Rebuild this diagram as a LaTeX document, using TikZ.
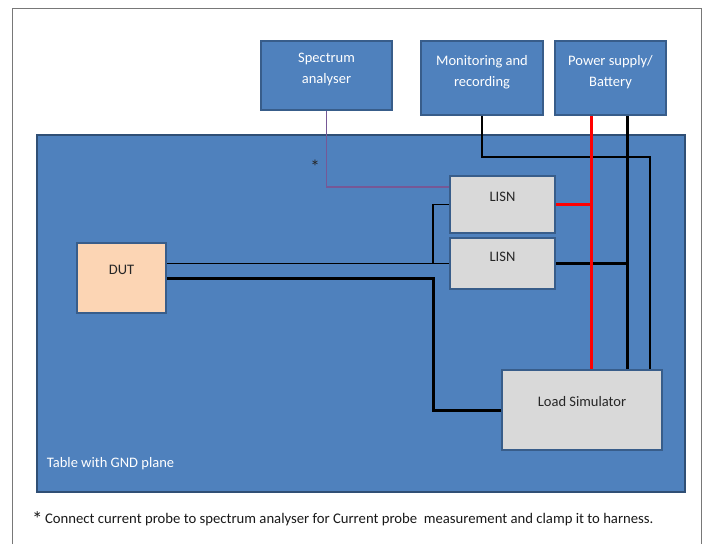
\documentclass[tikz,border=0pt]{standalone}
\usepackage{fontspec}
\setmainfont{Carlito}
\usepackage{tikz}
\usetikzlibrary{positioning,calc}
\definecolor{cBlue}{RGB}{79,129,189}
\definecolor{cEdge}{RGB}{56,93,138}
\definecolor{cGrey}{RGB}{217,217,217}
\definecolor{cPeach}{RGB}{252,213,180}
\definecolor{cProbe}{RGB}{118,88,150}
\definecolor{cFrame}{RGB}{120,120,120}
\definecolor{cWire}{RGB}{255,0,0}
\tikzset{
  basebox/.style={rectangle,draw=cEdge,line width=2.2pt,inner sep=0pt},
  bluebox/.style={basebox,fill=cBlue},
  greybox/.style={basebox,fill=cGrey},
  dutbox/.style={basebox,fill=cPeach},
  tablebox/.style={basebox,fill=cBlue,draw=cEdge!85!black,line width=2.5pt},
  toptext/.style={below=#1,inner sep=0pt,align=center,
                  font=\fontsize{14.5}{21}\selectfont},
  whitetext/.style={toptext=#1,text=white},
  darktext/.style={toptext=#1,text=black!85},
  tabletext/.style={anchor=base west,inner sep=0pt,xshift=11pt,yshift=26pt,
                    text=white,font=\fontsize{14.5}{21}\selectfont},
  notetext/.style={inner sep=0pt,text=black!90,
                   font=\fontsize{14.7}{21}\selectfont},
  frameline/.style={draw=cFrame,line width=1pt},
  thinwire/.style={draw=black,line width=1.3pt},
  thickwire/.style={draw=black,line width=3pt},
  redwire/.style={draw=cWire,line width=3pt},
  probewire/.style={draw=cProbe,line width=1.8pt}
}
\begin{document}
\begin{tikzpicture}[x=1pt,y=-1pt]
  \useasboundingbox (0,0) rectangle (707,544);
  \draw[frameline] (12,544) -- (12,8) -- (701,8) -- (701,544);

  \node[tablebox,minimum width=648pt,minimum height=357pt,
        label={[tabletext]south west:Table with GND plane}] (table) at (361,313.5) {};

  \node[bluebox,minimum width=131pt,minimum height=69pt,
        label={[whitetext=12.5pt]north:Spectrum\\analyser}] (spec) at (326.5,75.5) {};
  \node[bluebox,minimum width=122pt,minimum height=74pt,
        label={[whitetext=15pt]north:Monitoring and\\recording}] (mon) at (482,78) {};
  \node[bluebox,minimum width=111pt,minimum height=74pt,
        label={[whitetext=15pt]north:Power supply/\\Battery}] (ps) at (610.5,78) {};

  \node[greybox,minimum width=105pt,minimum height=57pt,
        label={[darktext=17pt]north:LISN}] (lisnA) at (502.5,204.5) {};
  \node[greybox,minimum width=105pt,minimum height=51pt,
        label={[darktext=15pt]north:LISN}] (lisnB) at (502.5,263.5) {};
  \node[dutbox,minimum width=89pt,minimum height=70pt,
        label={[darktext=23pt]north:DUT}] (dut) at (121.5,278) {};
  \node[greybox,minimum width=160pt,minimum height=80pt,
        label={[darktext=27pt]north:Load Simulator}] (load) at (582,410) {};

  \node[notetext,anchor=base,text=black!85,font=\fontsize{19}{20}\selectfont] (star) at (315,173) {*};

  \coordinate (psred) at ([xshift=-19.5pt]ps.south);
  \coordinate (psblk) at ([xshift=16.5pt]ps.south);
  \coordinate (monbend) at (650,157);
  \coordinate (dutsig) at ([yshift=14.5pt]dut.east);
  \coordinate (tap) at (433,263.5);

  \draw[probewire] (spec.south) |- ([yshift=17.5pt]lisnA.west);
  \draw[thinwire] (mon.south) |- (monbend) -- (monbend |- load.north);
  \draw[thinwire] (dutsig) -- (lisnB.west);
  \draw[thinwire] (tap) |- (lisnA.west);
  \draw[thickwire] (dut.east) -| (tap |- load.west) -- (load.west);
  \draw[thickwire] (psblk) -- (psblk |- load.north);
  \draw[thickwire] (lisnB.east) -- (psblk |- lisnB.east);
  \draw[redwire] (psred) -- (psred |- load.north);
  \draw[redwire] (lisnA.east) -- (psred |- lisnA.east);

  \node[notetext,anchor=base west] (note) at (32,523)
      {\raisebox{-3pt}{\fontsize{21}{20}\selectfont *}\,Connect current probe to spectrum analyser for Current probe~ measurement and clamp it to harness.};
\end{tikzpicture}
\end{document}
